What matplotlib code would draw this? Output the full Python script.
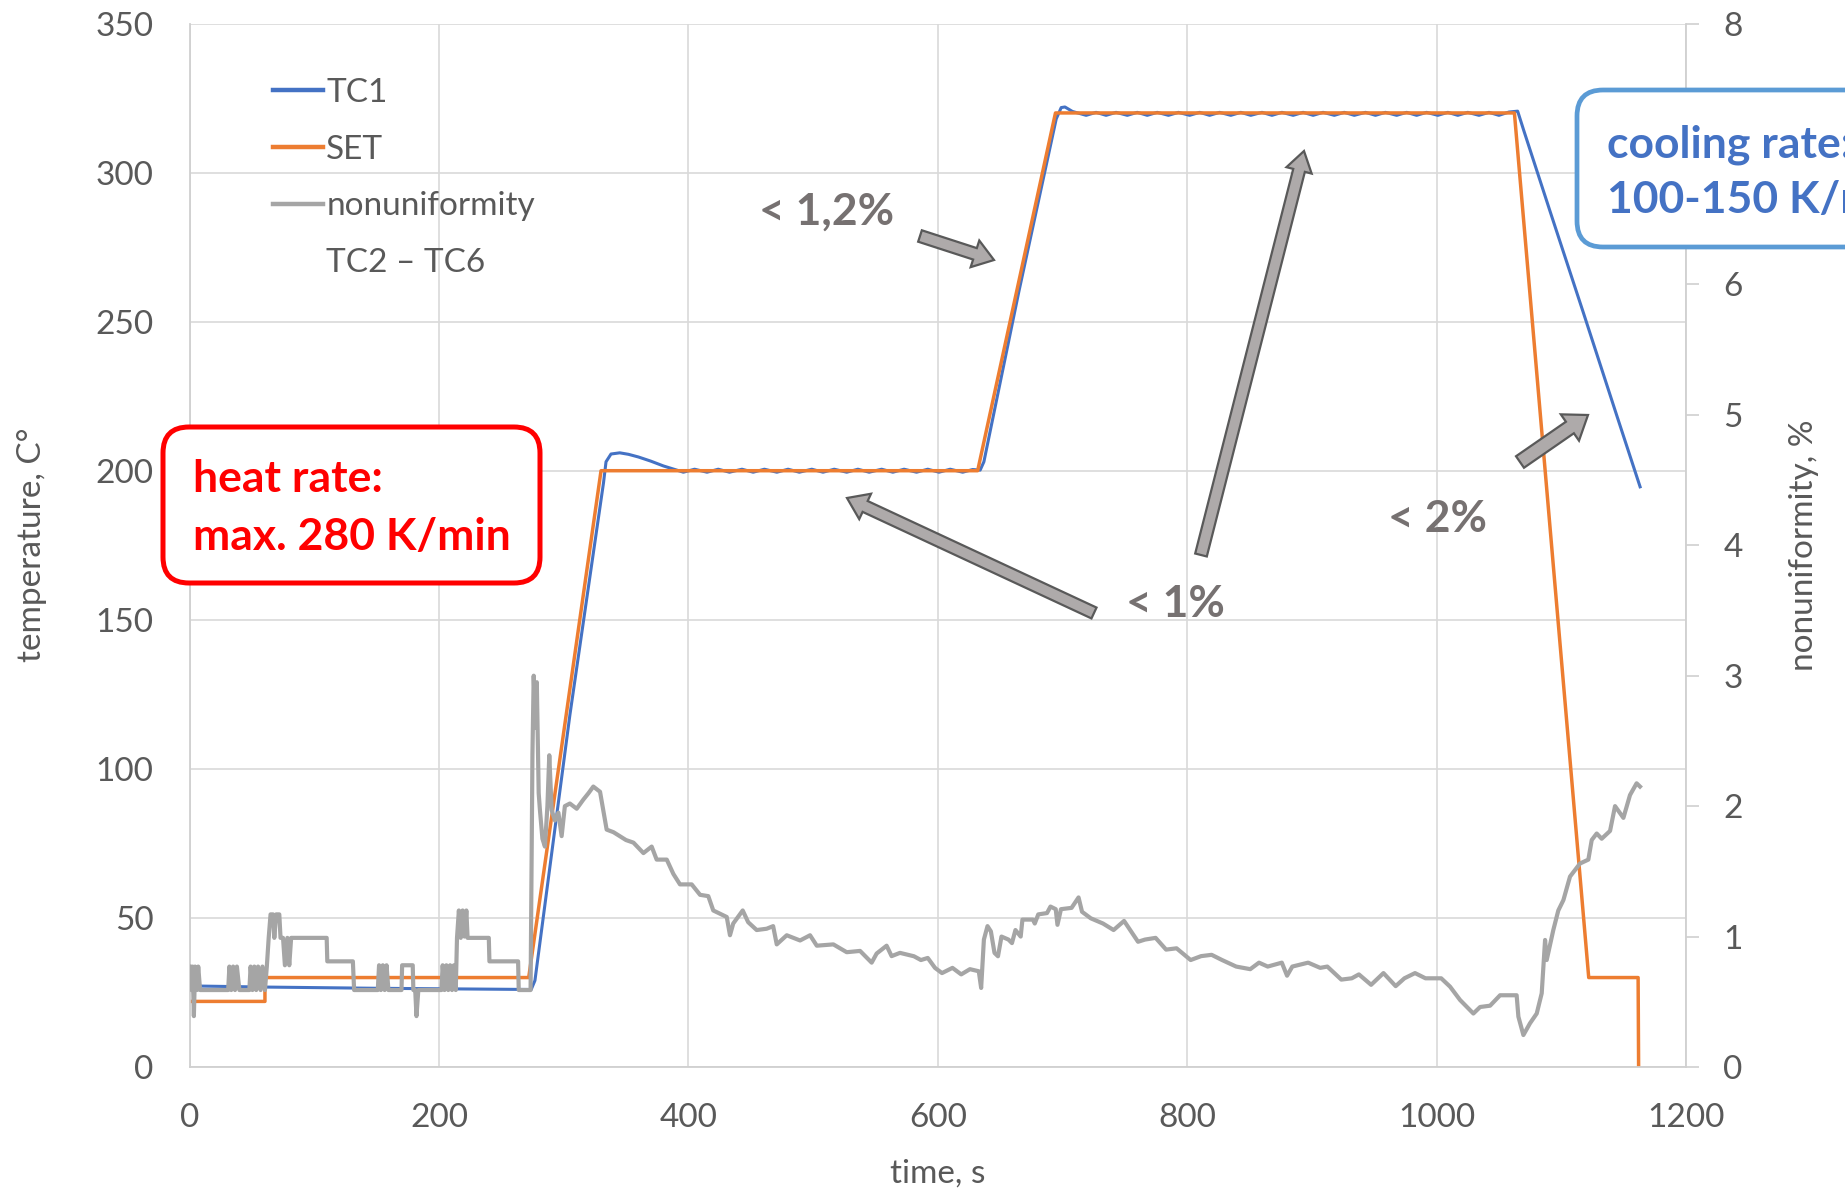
import matplotlib.pyplot as plt
from matplotlib.lines import Line2D
from matplotlib.patches import FancyBboxPatch, FancyArrow

plt.rcParams['font.family'] = ['Lato', 'DejaVu Sans']

# --- data ---
# SET point, time in s / temperature in C
set_time = [0, 60.5, 60.5, 272, 330, 632, 694.4, 1062.4, 1122, 1161.6, 1162]
set_temp = [22, 22, 30, 30, 200, 200, 320, 320, 30, 30, 0]

# TC1 thermocouple
tc1_time = [0, 63, 150, 274, 277, 305, 332, 334, 338, 345, 352, 360, 370, 380, 390,
            396, 405, 415, 424, 433, 443, 452, 461, 471, 480, 489, 499, 508, 517, 527,
            536, 545, 555, 564, 573, 583, 592, 601, 610, 620, 628, 634, 637, 665, 695,
            699, 702, 708,
            719, 727, 735, 743, 752, 760, 768, 776, 785, 793, 802, 810, 818, 826, 835,
            843, 851, 860, 868, 876, 885, 893, 901, 909, 918, 926, 934, 943, 951, 959,
            968, 976, 984, 992, 1001, 1009, 1017, 1025, 1034, 1042, 1050, 1058,
            1065, 1070, 1091, 1117.7, 1144.5, 1163.2]
tc1_temp = [27.2, 26.8, 26.4, 26.0, 29, 118, 196, 203, 205.6, 206, 205.5, 204.6, 203.2, 201.6, 200.3,
            199.5, 200.5, 199.5, 200.5, 199.5, 200.5, 199.5, 200.5, 199.5, 200.5, 199.5, 200.5, 199.5, 200.5, 199.5,
            200.5, 199.5, 200.5, 199.5, 200.5, 199.5, 200.5, 199.5, 200.5, 199.5, 200.4, 200.2, 203, 260, 318,
            321.8, 322, 320.5,
            319.2, 320.2, 319.2, 320.2, 319.2, 320.2, 319.2, 320.2, 319.2, 320.2, 319.2, 320.2, 319.2, 320.2, 319.2,
            320.2, 319.2, 320.2, 319.2, 320.2, 319.2, 320.2, 319.2, 320.2, 319.2, 320.2, 319.2, 320.2, 319.2, 320.2,
            319.2, 320.2, 319.2, 320.2, 319.2, 320.2, 319.2, 320.2, 319.2, 320.2, 319.2, 320.3,
            320.6, 314, 287, 253, 218.5, 194.6]

# nonuniformity TC2 - TC6, %
nonuni_time = [0, 1.5, 2.5, 3.5, 4.5, 6, 7, 8.5,
               31, 32, 33.5, 35, 36.5, 38, 40,
               48, 49, 50.5, 52, 53.5, 55, 57, 58.5, 60.5, 62,
               63.5, 65, 67, 68, 69.5, 72, 73, 75, 76.5, 78.5, 80, 81.5,
               110, 110.5, 131, 132,
               151, 152, 153.5, 155, 156.5, 158, 159.5,
               170, 170.5, 179, 179.5, 181, 182, 183.5,
               202, 203, 204.5, 206, 207.5, 209, 210.5, 212, 213.5,
               214.5, 216, 217.5, 219, 220.5, 222, 223, 240, 240.5, 263.5, 264, 273.5,
               275, 276, 277.5, 278.5, 280, 281, 283, 285, 287, 288.5, 290.4, 293, 295.8,
               298.4, 301, 305, 310.5, 315.8, 320, 323.8, 329.2, 334.5, 340, 345, 350,
               356, 364, 370.6, 374.6, 382.7, 388, 393.3, 402.7, 409.4, 416, 420, 430.8,
               433.4, 436, 443.6, 448, 454.8, 462.8, 468, 470.9, 478.9, 489.6, 497.6, 503,
               516.3, 527, 537.7, 547, 551, 559, 563,
               569.7, 580.9, 586.5, 592, 597.8, 603.4, 611.8, 618.8, 625.8, 632.9, 634.8,
               637, 639.9, 642.6, 645.5, 648.3, 651.1, 656.7, 659.5, 662.3, 666.5, 667.9,
               676.3, 677.8, 680.6, 687.6, 690.4, 694.6, 696, 698.8, 707.3, 712.9, 715.7,
               722.7, 732.5, 741, 749.4, 755, 760.6, 766.2, 774.7, 783.1, 791.5, 802.8,
               811.2, 819.6, 828, 839.3, 850.6, 857.6, 864.6, 875.9, 880.1, 884.3, 897,
               906.7, 912.4, 923.6, 932, 937.7, 947.5, 957.4, 967.2, 974.2, 982.7, 991.1,
               1003.7, 1010.8, 1018.8, 1029.5, 1034.9, 1042.9, 1050.9, 1064.2, 1065.6,
               1069.6, 1074.9, 1080.3, 1084.3, 1087, 1088.3, 1093.6, 1097.6, 1101.7, 1107,
               1115, 1121.7, 1124.4, 1128.4, 1132.4, 1139.1, 1143.1, 1149.8, 1155.1,
               1160.4, 1163.1]
nonuni_pct = [0.77, 0.59, 0.77, 0.39, 0.77, 0.59, 0.77, 0.59,
              0.59, 0.77, 0.59, 0.77, 0.59, 0.77, 0.59,
              0.59, 0.77, 0.59, 0.77, 0.59, 0.77, 0.59, 0.77, 0.59, 0.77,
              0.99, 1.17, 1.17, 0.99, 1.17, 1.17, 0.99, 0.99, 0.78, 0.99, 0.78, 0.99,
              0.99, 0.81, 0.81, 0.59,
              0.59, 0.78, 0.59, 0.78, 0.59, 0.78, 0.59,
              0.59, 0.78, 0.78, 0.59, 0.59, 0.39, 0.59,
              0.59, 0.78, 0.59, 0.78, 0.59, 0.78, 0.59, 0.78, 0.59,
              0.99, 1.2, 0.99, 1.2, 1.0, 1.2, 0.99, 0.99, 0.81, 0.81, 0.59, 0.59,
              2.4, 3.0, 2.6, 2.95, 2.1, 1.97, 1.75, 1.69, 2.0, 2.39, 1.97, 1.89, 1.95,
              1.77, 2.0, 2.02, 1.98, 2.05, 2.1, 2.15, 2.11, 1.82, 1.8, 1.77, 1.74,
              1.72, 1.64, 1.69, 1.59, 1.59, 1.48, 1.40, 1.40, 1.32, 1.31, 1.20, 1.15,
              1.01, 1.10, 1.20, 1.11, 1.05, 1.06, 1.08, 0.94, 1.01, 0.97, 1.01, 0.93,
              0.94, 0.88, 0.89, 0.80, 0.87, 0.93, 0.85,
              0.875, 0.849, 0.82, 0.836, 0.76, 0.72, 0.76, 0.71, 0.75, 0.734, 0.606,
              0.977, 1.08, 1.04, 0.875, 0.849, 1.0, 0.977, 0.95, 1.05, 1.0, 1.13,
              1.13, 1.1, 1.17, 1.18, 1.23, 1.21, 1.09, 1.21, 1.22, 1.30, 1.19,
              1.14, 1.10, 1.05, 1.12, 1.04, 0.96, 0.977, 0.99, 0.90, 0.91, 0.82,
              0.85, 0.86, 0.82, 0.77, 0.75, 0.80, 0.77, 0.80, 0.70, 0.77, 0.80,
              0.76, 0.77, 0.67, 0.68, 0.71, 0.63, 0.72, 0.62, 0.68, 0.72, 0.68,
              0.68, 0.616, 0.514, 0.41, 0.46, 0.47, 0.55, 0.55, 0.386,
              0.245, 0.335, 0.41, 0.565, 0.974, 0.82, 1.05, 1.20, 1.28, 1.46,
              1.56, 1.59, 1.74, 1.79, 1.75, 1.81, 2.0, 1.91, 2.085,
              2.175, 2.15]

temp_ticks = [0, 50, 100, 150, 200, 250, 300, 350]
pct_ticks = [0, 1, 2, 3, 4, 5, 6, 7, 8]
time_ticks = [0, 200, 400, 600, 800, 1000, 1200]

BLUE = '#4472C4'
ORANGE = '#ED7D31'
GRAY = '#A5A5A5'
TXT = '#595959'
AXC = '#D0D0D0'

W, H = 1845, 1195
fig = plt.figure(figsize=(W / 100, H / 100), dpi=100)
ax = fig.add_axes([189.5 / W, 1 - 1067 / H, 1496.5 / W, 1043.5 / H])
ax2 = ax.twinx()

l_tc1, = ax.plot(tc1_time, tc1_temp, color=BLUE, lw=2.2, label='TC1')
l_set, = ax.plot(set_time, set_temp, color=ORANGE, lw=2.5, label='SET')
l_non, = ax2.plot(nonuni_time, nonuni_pct, color=GRAY, lw=3.0, label='nonuniformity')

ax.set_xlim(0, 1200)
ax.set_ylim(0, 350)
ax2.set_ylim(0, 8)
ax.set_xticks(time_ticks)
ax.set_yticks(temp_ticks)
ax2.set_yticks(pct_ticks)

ax.grid(True, color='#D9D9D9', lw=1.2)
ax.set_axisbelow(True)
for s in ['top', 'right']:
    ax.spines[s].set_visible(False)
for s in ['top', 'left', 'bottom']:
    ax2.spines[s].set_visible(False)
for s in ['left', 'bottom']:
    ax.spines[s].set_color(AXC)
    ax.spines[s].set_linewidth(1.3)
ax2.spines['right'].set_color(AXC)
ax2.spines['right'].set_linewidth(1.3)

ax.tick_params(axis='both', length=0, labelsize=24, labelcolor=TXT, pad=26)
ax2.tick_params(axis='y', length=9, width=1.2, color=AXC, labelsize=24, labelcolor=TXT, pad=18)

ax.set_xlabel('time, s', fontsize=24, color=TXT)
ax.set_ylabel('temperature, C°', fontsize=24, color=TXT)
ax2.set_ylabel('nonuniformity, %', fontsize=24, color=TXT)
ax.xaxis.set_label_coords(0.5, -0.088)
ax.yaxis.set_label_coords(-0.095, 0.5)
ax2.yaxis.set_label_coords(1.069, 0.5)

# overlay in pixel coordinates for annotations
ov = fig.add_axes([0, 0, 1, 1])
ov.set_xlim(0, W)
ov.set_ylim(H, 0)
ov.axis('off')

leg = ov.legend([l_tc1, l_set, l_non, Line2D([], [], color='none')],
                ['TC1', 'SET', 'nonuniformity', 'TC2 – TC6'],
                loc='upper left', bbox_to_anchor=(273 / W, 1 - 78 / H),
                bbox_transform=fig.transFigure, frameon=False, fontsize=24,
                handlelength=1.5, handletextpad=0.1, labelspacing=0.8,
                borderpad=0, borderaxespad=0)
for t in leg.get_texts():
    t.set_color(TXT)
for h in leg.legend_handles[:3]:
    h.set_linewidth(3.2)

# heat rate box
ov.add_patch(FancyBboxPatch((163, 427), 377, 156, boxstyle='round,pad=0,rounding_size=26',
                            fc='white', ec='#FF0000', lw=3.6))
ov.text(193, 492, 'heat rate:', color='#FF0000', fontsize=32, fontweight='bold', va='baseline')
ov.text(193, 550, 'max. 280 K/min', color='#FF0000', fontsize=32, fontweight='bold', va='baseline')

# cooling rate box (runs off the right edge)
ov.add_patch(FancyBboxPatch((1577, 90), 420, 157, boxstyle='round,pad=0,rounding_size=26',
                            fc='white', ec='#5B9BD5', lw=3.4))
ov.text(1607, 157, 'cooling rate:', color=BLUE, fontsize=32, fontweight='bold', va='baseline')
ov.text(1607, 213, '100-150 K/min', color=BLUE, fontsize=32, fontweight='bold', va='baseline')


def block_arrow(x0, y0, x1, y1, w=12, hw=28, hl=20):
    ov.add_patch(FancyArrow(x0, y0, x1 - x0, y1 - y0, width=w, head_width=hw, head_length=hl,
                            length_includes_head=True, fc='#AEAAAA', ec='#595959', lw=1.6))


block_arrow(920, 236, 994, 260)
block_arrow(1094, 613, 847, 498)
block_arrow(1201, 555, 1304, 151, w=12, hw=26)
block_arrow(1520, 462, 1588, 415, w=14, hw=32, hl=22)

lab = dict(color='#767171', fontsize=32, fontweight='bold', va='baseline', ha='center')
ov.text(827, 225, '< 1,2%', **lab)
ov.text(1175, 617, '< 1%', **lab)
ov.text(1437, 532, '< 2%', **lab)

fig.savefig('out.png', dpi=100)
